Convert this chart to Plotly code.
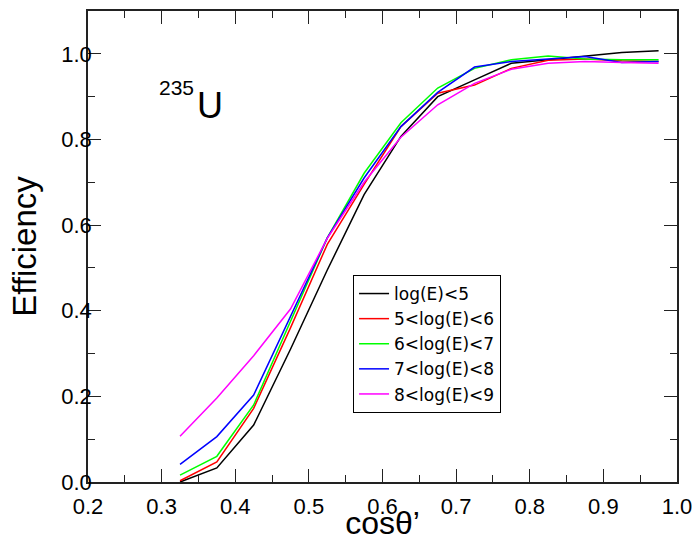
import plotly.graph_objects as go

cos_theta = [0.325, 0.375, 0.425, 0.475, 0.525, 0.575, 0.625, 0.675, 0.725, 0.775, 0.825, 0.875, 0.925, 0.975]

eff_lt5 = [0.000, 0.033, 0.133, 0.310, 0.495, 0.671, 0.807, 0.900, 0.939, 0.978, 0.986, 0.995, 1.003, 1.007]
eff_5_6 = [0.003, 0.047, 0.172, 0.360, 0.555, 0.695, 0.830, 0.908, 0.927, 0.966, 0.985, 0.988, 0.984, 0.982]
eff_6_7 = [0.016, 0.060, 0.180, 0.375, 0.570, 0.721, 0.839, 0.920, 0.966, 0.986, 0.995, 0.988, 0.986, 0.986]
eff_7_8 = [0.041, 0.106, 0.203, 0.385, 0.570, 0.710, 0.830, 0.910, 0.969, 0.982, 0.988, 0.994, 0.980, 0.982]
eff_8_9 = [0.107, 0.196, 0.295, 0.404, 0.569, 0.700, 0.805, 0.881, 0.931, 0.964, 0.978, 0.982, 0.980, 0.978]

series = [
    ("log(E)<5", eff_lt5, "#000000"),
    ("5<log(E)<6", eff_5_6, "#ff0000"),
    ("6<log(E)<7", eff_6_7, "#00ff00"),
    ("7<log(E)<8", eff_7_8, "#0000ff"),
    ("8<log(E)<9", eff_8_9, "#ff00ff"),
]

FONT = "Liberation Sans, Arial, Helvetica, sans-serif"
LEGFONT = "DejaVu Sans, Liberation Sans, sans-serif"

fig = go.Figure()
for name, vals, col in series:
    fig.add_trace(go.Scatter(x=cos_theta, y=vals, mode="lines", name=name,
                             line=dict(color=col, width=1.5)))

axis_common = dict(
    showline=True, linecolor="#222222", linewidth=1.5, mirror="ticks",
    ticks="inside", ticklen=13, tickwidth=1.2, tickcolor="#222222",
    showgrid=False, zeroline=False, automargin=False,
    tickfont=dict(family=FONT, size=22, color="#000000"),
)

fig.update_xaxes(range=[0.2, 1.0], tickmode="array",
                 tickvals=[0.2, 0.3, 0.4, 0.5, 0.6, 0.7, 0.8, 0.9, 1.0],
                 ticktext=["0.2", "0.3", "0.4", "0.5", "0.6", "0.7", "0.8", "0.9", "1.0"],
                 minor=dict(dtick=0.05, ticks="inside", ticklen=7, tickcolor="#222222", tickwidth=1.2),
                 ticklabelstandoff=4,
                 title=dict(text="cosθ’", font=dict(family=FONT, size=32, color="#000000"), standoff=8),
                 **axis_common)
fig.update_yaxes(range=[0.0, 1.1], tickmode="array",
                 tickvals=[0.0, 0.2, 0.4, 0.6, 0.8, 1.0],
                 ticktext=["0.0", "0.2", "0.4", "0.6", "0.8", "1.0"],
                 minor=dict(dtick=0.1, ticks="inside", ticklen=7, tickcolor="#222222", tickwidth=1.2),
                 ticklabelstandoff=-10,
                 title=dict(text="Efficiency", font=dict(family=FONT, size=33, color="#000000"), standoff=15),
                 **axis_common)

fig.add_annotation(x=0.2937, y=0.953, xref="x", yref="y", xanchor="left", yanchor="top",
                   text="235", showarrow=False,
                   font=dict(family=FONT, size=21, color="#000000"))
fig.add_annotation(x=0.3453, y=0.931, xref="x", yref="y", xanchor="left", yanchor="top",
                   text="U", showarrow=False,
                   font=dict(family=FONT, size=36, color="#000000"))

fig.update_layout(
    width=698, height=541,
    margin=dict(l=88, r=21, t=11, b=59, autoexpand=False),
    paper_bgcolor="#ffffff", plot_bgcolor="#ffffff",
    showlegend=True,
    legend=dict(x=0.45, y=0.4395, xanchor="left", yanchor="top",
                bordercolor="#000000", borderwidth=1, bgcolor="#ffffff",
                font=dict(family=LEGFONT, size=17, color="#000000"),
                itemwidth=30),
)

fig.write_html("out.html")
